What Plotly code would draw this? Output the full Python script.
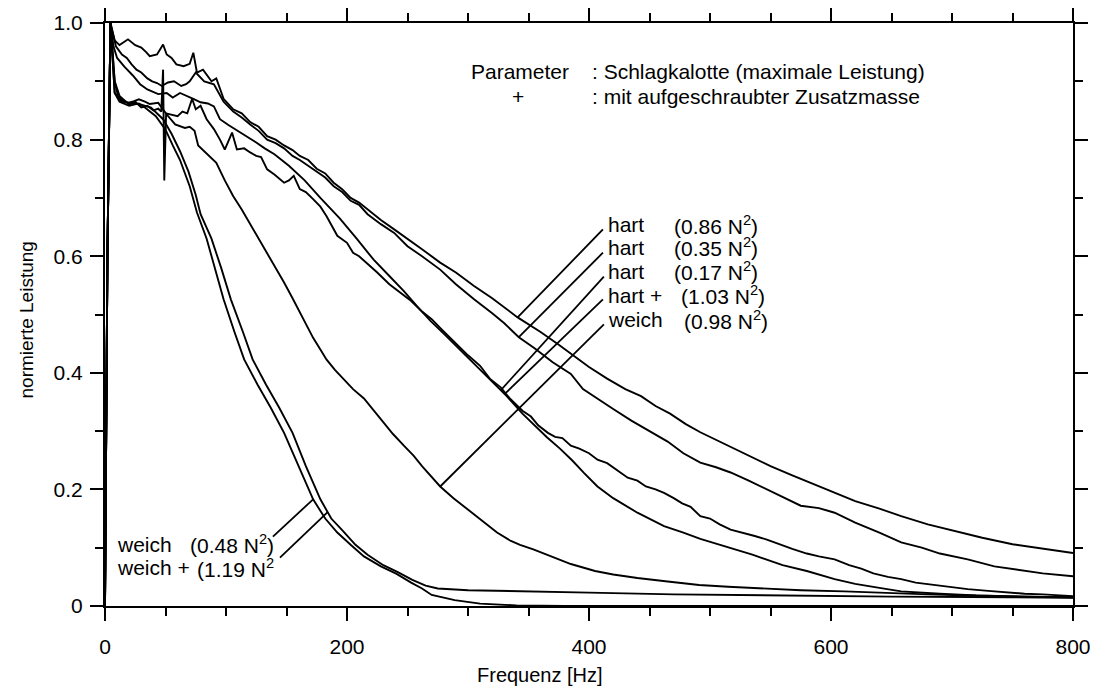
import numpy as np
import plotly.graph_objects as go

# ---------------- data ----------------
# hart (0.86 N^2)
A_f = [0, 2, 4.5, 8, 12, 16, 19, 25, 30, 34, 37, 43, 48, 51, 55, 59, 65, 70, 73, 76,
       81, 88, 92, 98, 106, 113, 120, 127, 134, 141, 148, 155, 161, 168, 175, 182, 189, 196, 203, 210,
       217, 228, 239, 250, 262, 277, 290, 305, 320, 341, 360, 375, 387, 400, 415, 430, 443, 455, 467, 480,
       492, 505, 517, 535, 550, 568, 585, 602, 620, 640, 658, 680, 700, 725, 750, 775, 800]
A_y = [0, 0.6, 1.0, 0.97, 0.962, 0.968, 0.972, 0.962, 0.958, 0.95, 0.943, 0.946, 0.963, 0.946, 0.94, 0.929, 0.926, 0.93, 0.949, 0.915,
       0.92, 0.90, 0.905, 0.87, 0.852, 0.845, 0.83, 0.822, 0.806, 0.80, 0.79, 0.782, 0.772, 0.765, 0.75, 0.742, 0.726, 0.715, 0.70, 0.692,
       0.68, 0.662, 0.646, 0.629, 0.612, 0.589, 0.572, 0.549, 0.528, 0.495, 0.47, 0.448, 0.43, 0.41, 0.39, 0.372, 0.36, 0.343, 0.33, 0.312,
       0.298, 0.285, 0.274, 0.256, 0.24, 0.224, 0.21, 0.195, 0.18, 0.167, 0.154, 0.14, 0.13, 0.117, 0.106, 0.098, 0.091]

# hart (0.35 N^2)
B_f = [0, 2, 4.5, 9, 14, 18, 22, 26, 30, 35, 39, 43, 47, 52, 57, 63, 67, 70, 75, 82,
       90, 98, 106, 113, 120, 127, 134, 141, 148, 155, 161, 168, 175, 182, 189, 196, 203, 210, 217, 228,
       239, 250, 262, 277, 290, 305, 320, 330, 342, 355, 370, 385, 395, 407, 420, 435, 450, 465, 478, 492,
       505, 517, 532, 547, 562, 575, 590, 603, 620, 640, 658, 675, 690, 713, 735, 755, 775, 800]
B_y = [0, 0.6, 1.0, 0.96, 0.946, 0.94, 0.929, 0.92, 0.915, 0.905, 0.90, 0.897, 0.892, 0.898, 0.90, 0.892, 0.895, 0.90, 0.915, 0.90,
       0.895, 0.865, 0.848, 0.838, 0.826, 0.815, 0.80, 0.794, 0.785, 0.772, 0.765, 0.755, 0.745, 0.735, 0.72, 0.71, 0.695, 0.688, 0.672, 0.655,
       0.64, 0.617, 0.60, 0.577, 0.552, 0.526, 0.502, 0.485, 0.461, 0.442, 0.418, 0.398, 0.372, 0.355, 0.338, 0.318, 0.30, 0.282, 0.262, 0.246,
       0.238, 0.229, 0.215, 0.20, 0.186, 0.172, 0.168, 0.16, 0.143, 0.126, 0.109, 0.10, 0.09, 0.08, 0.068, 0.062, 0.056, 0.051]

# hart (0.17 N^2)
C_f = [0, 2, 4.5, 7, 10, 16, 23, 29, 35, 44, 51, 56, 62, 68, 73, 79, 85, 90, 95, 102,
       110, 117, 125, 132, 140, 152, 165, 178, 194, 208, 222, 235, 247, 258, 269, 281, 293, 303, 312, 322,
       332, 345, 355, 365, 376, 386, 396, 407, 420, 440, 462, 478, 492, 517, 535, 560, 580, 603, 620, 640,
       658, 690, 720, 760, 800]
C_y = [0, 0.6, 1.0, 0.96, 0.94, 0.925, 0.91, 0.895, 0.886, 0.878, 0.88, 0.872, 0.88, 0.875, 0.87, 0.864, 0.862, 0.857, 0.835, 0.825,
       0.815, 0.805, 0.795, 0.785, 0.775, 0.755, 0.73, 0.70, 0.665, 0.63, 0.594, 0.566, 0.54, 0.514, 0.489, 0.465, 0.44, 0.42, 0.40, 0.38,
       0.36, 0.33, 0.31, 0.29, 0.27, 0.25, 0.228, 0.205, 0.185, 0.16, 0.137, 0.126, 0.115, 0.10, 0.088, 0.07, 0.06, 0.046, 0.038, 0.031,
       0.025, 0.021, 0.018, 0.016, 0.015]

# hart + (1.03 N^2)
D_f = [0, 2, 4.5, 8, 12, 16, 20, 25, 30, 35, 40, 44, 46.5, 48, 49, 50.5, 55, 60, 64, 68,
       72, 75, 79, 84, 90, 95, 99, 105, 109, 115, 120, 125, 129, 134, 140, 145, 148, 152, 156, 161,
       166, 172, 178, 183, 189, 192, 200, 205, 210, 216, 225, 235, 244, 252, 262, 270, 278, 288, 300, 310,
       318, 327, 335, 345, 352, 358, 366, 372, 378, 385, 392, 400, 407, 415, 422, 432, 440, 447, 455, 462,
       470, 477, 484, 492, 500, 508, 517, 527, 537, 547, 558, 568, 580, 590, 603, 615, 625, 635, 647, 658,
       670, 685, 700, 713, 730, 745, 760, 775, 790, 800]
D_y = [0, 0.6, 1.0, 0.90, 0.875, 0.868, 0.86, 0.865, 0.855, 0.858, 0.85, 0.853, 0.848, 0.92, 0.73, 0.845, 0.842, 0.84, 0.848, 0.845,
       0.87, 0.852, 0.858, 0.835, 0.818, 0.80, 0.783, 0.812, 0.783, 0.785, 0.778, 0.772, 0.77, 0.749, 0.74, 0.731, 0.726, 0.73, 0.738, 0.715,
       0.71, 0.698, 0.685, 0.669, 0.646, 0.635, 0.623, 0.606, 0.6, 0.589, 0.572, 0.552, 0.538, 0.525, 0.505, 0.492, 0.475, 0.455, 0.43, 0.412,
       0.39, 0.375, 0.355, 0.335, 0.325, 0.31, 0.297, 0.29, 0.288, 0.275, 0.27, 0.262, 0.251, 0.245, 0.235, 0.22, 0.215, 0.205, 0.2, 0.194,
       0.185, 0.176, 0.17, 0.154, 0.15, 0.14, 0.131, 0.126, 0.12, 0.114, 0.105, 0.098, 0.09, 0.085, 0.08, 0.07, 0.064, 0.056, 0.05, 0.046,
       0.04, 0.036, 0.032, 0.029, 0.026, 0.023, 0.021, 0.02, 0.018, 0.017]

# weich (0.98 N^2)
E_f = [0, 2, 4.5, 8, 11, 15, 19, 24, 28, 33, 37, 44, 51, 58, 66, 70, 74, 77, 79, 85,
       92, 99, 106, 113, 120, 127, 134, 141, 148, 155, 161, 167, 172, 178, 183, 190, 197, 205, 214, 222,
       230, 238, 247, 255, 262, 270, 277, 288, 300, 312, 324, 335, 343, 354, 364, 375, 385, 395, 405, 420,
       440, 465, 491, 515, 542, 575, 611, 645, 680, 715, 748, 775, 800]
E_y = [0, 0.6, 1.0, 0.90, 0.872, 0.868, 0.863, 0.866, 0.869, 0.865, 0.861, 0.863, 0.843, 0.826, 0.82, 0.822, 0.815, 0.79, 0.786, 0.775,
       0.76, 0.73, 0.703, 0.68, 0.655, 0.63, 0.606, 0.58, 0.555, 0.528, 0.503, 0.48, 0.46, 0.44, 0.423, 0.405, 0.39, 0.372, 0.356, 0.335,
       0.315, 0.295, 0.275, 0.258, 0.24, 0.222, 0.205, 0.185, 0.165, 0.145, 0.126, 0.112, 0.105, 0.097, 0.089, 0.08, 0.072, 0.066, 0.06, 0.054,
       0.048, 0.042, 0.036, 0.033, 0.030, 0.027, 0.025, 0.022, 0.020, 0.018, 0.016, 0.0155, 0.015]

# weich (0.48 N^2)
F_f = [0, 2, 4.5, 8, 12, 20, 28, 33, 42, 50, 56, 62, 70, 76, 84, 91, 98, 107, 115, 126,
       137, 148, 160, 172, 182, 192, 203, 214, 228, 241, 253, 262, 270, 289, 310, 340, 380, 800]
F_y = [0, 0.6, 1.0, 0.88, 0.865, 0.858, 0.862, 0.855, 0.84, 0.817, 0.79, 0.765, 0.72, 0.675, 0.63, 0.58, 0.526, 0.47, 0.423, 0.38,
       0.34, 0.297, 0.24, 0.183, 0.15, 0.126, 0.105, 0.085, 0.068, 0.055, 0.04, 0.03, 0.019, 0.010, 0.004, 0.001, 0.0, 0.0]

# weich + (1.19 N^2)
G_f = [0, 2, 4.5, 8, 14, 22, 30, 38, 48, 55, 62, 69, 75, 79, 88, 96, 104, 114, 122, 133,
       144, 155, 166, 178, 187, 196, 207, 217, 230, 242, 254, 265, 275, 300, 340, 400, 470, 542, 650, 748, 800]
G_y = [0, 0.6, 1.0, 0.88, 0.865, 0.862, 0.86, 0.855, 0.835, 0.81, 0.78, 0.745, 0.705, 0.672, 0.63, 0.58, 0.526, 0.47, 0.423, 0.38,
       0.34, 0.297, 0.24, 0.183, 0.15, 0.13, 0.105, 0.088, 0.07, 0.058, 0.045, 0.035, 0.030, 0.027, 0.025, 0.023, 0.02, 0.018, 0.016, 0.015, 0.014]

series_names = ["hart (0.86 N²)", "hart (0.35 N²)", "hart (0.17 N²)", "hart + (1.03 N²)",
                "weich (0.98 N²)", "weich (0.48 N²)", "weich + (1.19 N²)"]
series_f = [A_f, B_f, C_f, D_f, E_f, F_f, G_f]
series_y = [A_y, B_y, C_y, D_y, E_y, F_y, G_y]

x_tickvals = [0, 200, 400, 600, 800]
x_ticktext = ["0", "200", "400", "600", "800"]
x_minor_vals = [50, 100, 150, 250, 300, 350, 450, 500, 550, 650, 700, 750]
y_tickvals = [0, 0.2, 0.4, 0.6, 0.8, 1.0]
y_ticktext = ["0", "0.2", "0.4", "0.6", "0.8", "1.0"]
y_minor_vals = [0.1, 0.3, 0.5, 0.7, 0.9]

# label texts (name column, value column)
label_names = ["hart", "hart", "hart", "hart +", "weich", "weich", "weich +"]
label_values = ["(0.86 N<sup>2</sup>)", "(0.35 N<sup>2</sup>)", "(0.17 N<sup>2</sup>)", "(1.03 N<sup>2</sup>)",
                "(0.98 N<sup>2</sup>)", "(0.48 N<sup>2</sup>)", "(1.19 N<sup>2</sup>"]
# frequency on each curve where its leader line ends
leader_target_f = [341, 342, 327, 331, 277, 172, 184]

# ---------------- layout positions (data units) ----------------
name_pos = [(414, 0.654), (414, 0.615), (414, 0.574), (414, 0.533), (414, 0.491), (8.5, 0.1055), (8.5, 0.066)]
value_x = [468.5, 468.5, 468.5, 474.5, 477.0, 68.5, 74.5]
leader_tail = [(411.5, 0.646), (411.5, 0.606), (412.3, 0.565), (411.5, 0.526), (412.3, 0.483), (138.8, 0.119), (144.6, 0.083)]

FONT = "Liberation Sans, Arial, Helvetica, sans-serif"
FS = 21
BLACK = "black"

fig = go.Figure()
for name, f, y in zip(series_names, series_f, series_y):
    fig.add_trace(go.Scatter(x=f, y=y, mode="lines", name=name, showlegend=False,
                             line=dict(color=BLACK, width=1.9)))
# empty trace that carries the overlay axes used for the minor ticks
fig.add_trace(go.Scatter(x=[None], y=[None], xaxis="x2", yaxis="y2", mode="lines",
                         showlegend=False, hoverinfo="skip"))

shapes = []
annotations = []
for i in range(len(series_names)):
    tf = leader_target_f[i]
    ty = float(np.interp(tf, series_f[i], series_y[i]))
    tx0, ty0 = leader_tail[i]
    shapes.append(dict(type="line", xref="x", yref="y", x0=tx0, y0=ty0, x1=tf, y1=ty,
                       line=dict(color=BLACK, width=1.8)))
    nx, ny = name_pos[i]
    annotations.append(dict(x=nx, y=ny, xref="x", yref="y", text=label_names[i], showarrow=False,
                            xanchor="left", yanchor="middle", font=dict(family=FONT, size=FS, color=BLACK)))
    annotations.append(dict(x=value_x[i], y=ny, xref="x", yref="y", text=label_values[i], showarrow=False,
                            xanchor="left", yanchor="middle", font=dict(family=FONT, size=FS, color=BLACK)))

# parameter legend text
annotations += [
    dict(x=301, y=0.917, xref="x", yref="y", text="Parameter", showarrow=False,
         xanchor="left", yanchor="middle", font=dict(family=FONT, size=FS, color=BLACK)),
    dict(x=401, y=0.917, xref="x", yref="y", text=": Schlagkalotte (maximale Leistung)", showarrow=False,
         xanchor="left", yanchor="middle", font=dict(family=FONT, size=FS, color=BLACK)),
    dict(x=341, y=0.8745, xref="x", yref="y", text="+", showarrow=False,
         xanchor="center", yanchor="middle", font=dict(family=FONT, size=FS, color=BLACK)),
    dict(x=401, y=0.8745, xref="x", yref="y", text=": mit aufgeschraubter Zusatzmasse", showarrow=False,
         xanchor="left", yanchor="middle", font=dict(family=FONT, size=FS, color=BLACK)),
    # axis titles
    dict(x=0.449, y=-0.1175, xref="paper", yref="paper", text="Frequenz [Hz]", showarrow=False,
         xanchor="center", yanchor="middle", font=dict(family=FONT, size=20, color=BLACK)),
    dict(x=-0.0806, y=0.4914, xref="paper", yref="paper", text="normierte Leistung", showarrow=False,
         textangle=-90, xanchor="center", yanchor="middle", font=dict(family=FONT, size=19, color=BLACK)),
]

axis_common = dict(
    showline=True, linewidth=2, linecolor=BLACK, mirror="ticks",
    ticks="outside", tickwidth=2, tickcolor=BLACK,
    showgrid=False, zeroline=False, automargin=False, fixedrange=True,
    tickfont=dict(family=FONT, size=FS, color=BLACK),
)

fig.update_layout(
    template="none",
    width=1094, height=693,
    margin=dict(l=105, r=21, t=23, b=87, pad=0),
    paper_bgcolor="white", plot_bgcolor="white",
    font=dict(family=FONT, size=FS, color=BLACK),
    shapes=shapes, annotations=annotations, showlegend=False,
    xaxis=dict(range=[0, 800], tickmode="array", tickvals=x_tickvals, ticktext=x_ticktext,
               ticklen=13, ticklabelstandoff=8, **axis_common),
    yaxis=dict(range=[0, 1], tickmode="array", tickvals=y_tickvals, ticktext=y_ticktext,
               ticklen=13, ticklabelstandoff=3, **axis_common),
    xaxis2=dict(range=[0, 800], overlaying="x", anchor="y", side="bottom",
                tickmode="array", tickvals=x_minor_vals, showticklabels=False,
                ticklen=8, **axis_common),
    yaxis2=dict(range=[0, 1], overlaying="y", anchor="x", side="left",
                tickmode="array", tickvals=y_minor_vals, showticklabels=False,
                ticklen=8, **axis_common),
)

fig.write_html("out.html")
